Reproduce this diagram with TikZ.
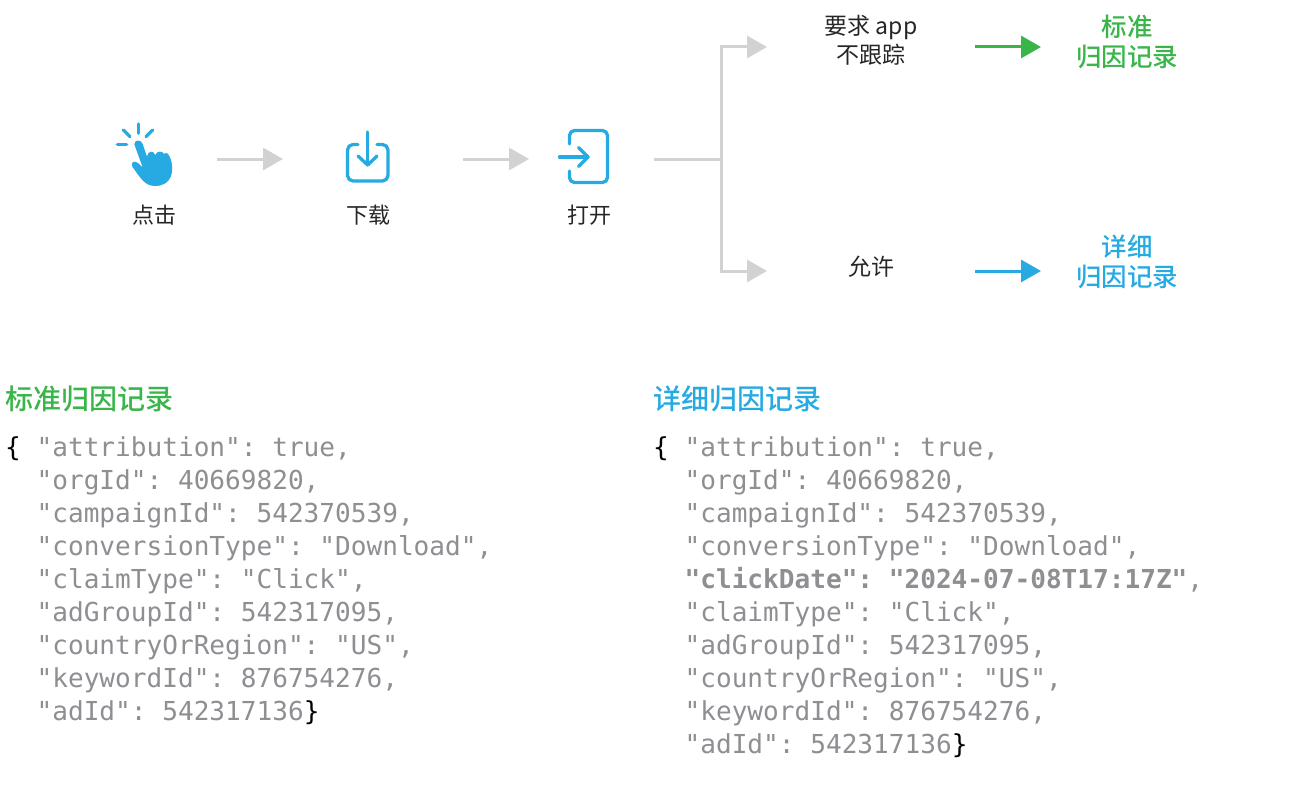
\documentclass[tikz,border=0pt]{standalone}
\usepackage{fontspec}
\setmainfont{Noto Sans CJK SC}
\newfontfamily\cjkmed{Noto Sans CJK SC Medium}
\setmonofont{DejaVu Sans Mono}
\usetikzlibrary{arrows.meta}
\definecolor{linegray}{HTML}{D1D2D4}
\definecolor{iconblue}{HTML}{27AAE1}
\definecolor{recgreen}{HTML}{39B54A}
\definecolor{codegray}{HTML}{8E8E93}
\newcommand{\ind}{\phantom{\{ }}
\newcommand{\blk}[1]{\textcolor{black}{#1}}
\tikzset{
  flow/.style={line width=3pt,linegray,-{Triangle[length=20pt,width=22pt]}},
  greenflow/.style={line width=3pt,recgreen,-{Triangle[length=20pt,width=22pt]}},
  blueflow/.style={line width=3pt,iconblue,-{Triangle[length=20pt,width=22pt]}},
  trunk/.style={line width=3pt,linegray},
  icon/.style={line width=3.3pt,iconblue,line cap=round,line join=round},
  steplabel/.style={inner sep=0pt,anchor=center,text=black!85,font=\fontsize{22}{22}\selectfont},
  decision/.style={inner sep=0pt,anchor=center,align=center,text=black!85,font=\fontsize{23}{29}\selectfont},
  record/.style={inner sep=0pt,anchor=center,align=center,font=\cjkmed\fontsize{25.5}{30}\selectfont},
  rechead/.style={inner sep=0pt,anchor=west,font=\cjkmed\fontsize{28}{28}\selectfont},
  code/.style={inner sep=0pt,anchor=north west,align=left,text=codegray,font=\ttfamily\fontsize{26.1}{33}\selectfont},
}
\begin{document}
\begin{tikzpicture}[x=1pt,y=-1pt]
\useasboundingbox (0,0) rectangle (1306,800);
\fill[white] (0,0) rectangle (1306,800);
% hand icon
\begin{scope}[shift={(100,110)},x=0.3333pt,y=-0.3333pt]
\draw[icon] (115,42) -- (115,70);
\draw[icon] (52,104) -- (80,104);
\draw[icon] (70,60) -- (90,80);
\draw[icon] (158,60) -- (138,80);
\fill[iconblue] (103,103) .. controls (103,88) and (124,88) .. (128,102)
 -- (141,140) .. controls (143,122) and (160,120) .. (166,135)
 .. controls (170,122) and (188,122) .. (192,132)
 .. controls (200,122) and (208,135) .. (213,150)
 .. controls (222,180) and (218,228) .. (165,228)
 .. controls (135,228) and (122,205) .. (97,170)
 .. controls (90,156) and (105,150) .. (115,160)
 -- (128,172) -- cycle;
\end{scope}
% download icon
\draw[icon,rounded corners=5.5pt] (358,144.5) -- (347.5,144.5) -- (347.5,181) -- (388,181) -- (388,144.5) -- (377,144.5);
\draw[icon] (367.7,132) -- (367.7,165);
\draw[icon] (358,156) -- (367.7,165) -- (377,156);
% open icon
\draw[icon,rounded corners=5pt] (569.5,144) -- (569.5,130.5) -- (607.5,130.5) -- (607.5,182.5) -- (569.5,182.5) -- (569.5,171);
\draw[icon] (559.5,157) -- (588,157);
\draw[icon] (578.5,147.5) -- (588,157) -- (578.5,166.5);
% labels
\node[steplabel] (click) at (154,215) {点击};
\node[steplabel] (download) at (368,215) {下载};
\node[steplabel] (open) at (589,215) {打开};
\node[decision] (ask) at (871,40) {要求 app\\不跟踪};
\node[decision] (allow) at (871,267) {允许};
\node[record,text=recgreen] (std) at (1127,42) {标准\\归因记录};
\node[record,text=iconblue] (det) at (1127,262) {详细\\归因记录};
% connectors
\coordinate (a1s) at (217,159); \coordinate (a1e) at (283,159);
\coordinate (a2s) at (463,159); \coordinate (a2e) at (529,159);
\coordinate (bs) at (654,159); \coordinate (bj) at (721,159);
\coordinate (bt) at (767,47); \coordinate (bb) at (767,271);
\coordinate (gs) at (975,47); \coordinate (ge) at (1041,47);
\coordinate (hs) at (975,271); \coordinate (he) at (1041,271);
\draw[flow] (a1s) -- (a1e);
\draw[flow] (a2s) -- (a2e);
\draw[trunk] (bs) -- (bj);
\draw[flow] (bj) |- (bt);
\draw[flow] (bj) |- (bb);
\draw[greenflow] (gs) -- (ge);
\draw[blueflow] (hs) -- (he);
% records
\node[rechead,text=recgreen] (h1) at (5,399) {标准归因记录};
\node[rechead,text=iconblue] (h2) at (653,399) {详细归因记录};
\node[code] (c1) at (5,436) {\blk{\{} "attribution": true,\\
\ind"orgId": 40669820,\\
\ind"campaignId": 542370539,\\
\ind"conversionType": "Download",\\
\ind"claimType": "Click",\\
\ind"adGroupId": 542317095,\\
\ind"countryOrRegion": "US",\\
\ind"keywordId": 876754276,\\
\ind"adId": 542317136\blk{\}}};
\node[code] (c2) at (653,436) {\blk{\{} "attribution": true,\\
\ind"orgId": 40669820,\\
\ind"campaignId": 542370539,\\
\ind"conversionType": "Download",\\
\ind\textbf{"clickDate": "2024-07-08T17:17Z"},\\
\ind"claimType": "Click",\\
\ind"adGroupId": 542317095,\\
\ind"countryOrRegion": "US",\\
\ind"keywordId": 876754276,\\
\ind"adId": 542317136\blk{\}}};
\end{tikzpicture}
\end{document}
